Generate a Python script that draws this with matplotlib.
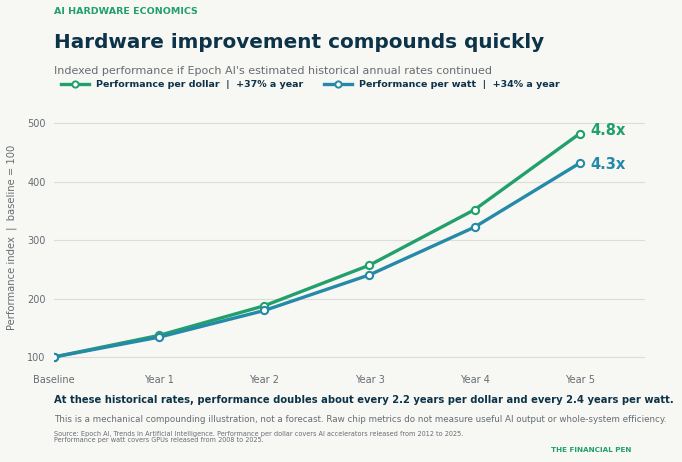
import matplotlib
matplotlib.use("Agg")
import matplotlib.pyplot as plt
from matplotlib.lines import Line2D

# values (index, baseline = 100)
periods = ["Baseline", "Year 1", "Year 2", "Year 3", "Year 4", "Year 5"]
per_dollar = [100, 137, 187.7, 257.2, 352.3, 482.6]
per_watt = [100, 134, 179.6, 240.6, 322.4, 432.0]
end_labels = ["4.8x", "4.3x"]
y_ticks = [100, 200, 300, 400, 500]

BG = "#f7f7f4"
GREEN = "#22a06b"
BLUE = "#2589a8"
NAVY = "#0d3349"
GREY = "#666d72"

fig = plt.figure(figsize=(6.82, 4.62), dpi=100, facecolor=BG)
W, H = 682, 462

ax = fig.add_axes([54 / W, 1 - 364 / H, (645 - 54) / W, (364 - 100) / H])
ax.set_facecolor(BG)

x = list(range(len(periods)))
for vals, col in [(per_dollar, GREEN), (per_watt, BLUE)]:
    ax.plot(x, vals, color=col, lw=2.4, marker="o", ms=5.2,
            mfc="white", mec=col, mew=1.5, zorder=3)

ax.text(x[-1] + 0.1, per_dollar[-1] + 5, end_labels[0], color=GREEN,
        fontsize=10.5, fontweight="bold", va="center", ha="left")
ax.text(x[-1] + 0.1, per_watt[-1] - 2, end_labels[1], color=BLUE,
        fontsize=10.5, fontweight="bold", va="center", ha="left")

ax.set_xlim(0, 5.62)
ax.set_ylim(88, 540)
ax.set_xticks(x)
ax.set_xticklabels(periods)
ax.set_yticks(y_ticks)
ax.tick_params(length=0, colors=GREY, labelsize=7)
ax.tick_params(axis="x", pad=8)
ax.tick_params(axis="y", pad=6)
ax.grid(axis="y", color="#dcdcd8", lw=0.8)
for s in ax.spines.values():
    s.set_visible(False)
ax.set_ylabel("Performance index  |  baseline = 100", color=GREY, fontsize=7.2)
ax.yaxis.set_label_coords(-0.063, 0.478)

# legend
handles = [
    Line2D([], [], color=GREEN, lw=2.4, marker="o", ms=4.5, mfc="white", mec=GREEN, mew=1.4),
    Line2D([], [], color=BLUE, lw=2.4, marker="o", ms=4.5, mfc="white", mec=BLUE, mew=1.4),
]
leg = fig.legend(handles, ["Performance per dollar  |  +37% a year",
                           "Performance per watt  |  +34% a year"],
                 loc="center left", bbox_to_anchor=(61 / W, 1 - 85 / H), ncol=2,
                 prop={"weight": "bold", "size": 6.8},
                 frameon=False, handlelength=3.0, handletextpad=0.7, columnspacing=2.2,
                 borderaxespad=0, borderpad=0)
for t in leg.get_texts():
    t.set_color(NAVY)

fig.text(54 / W, 1 - 12 / H, "AI HARDWARE ECONOMICS", color=GREEN,
         fontsize=6.8, fontweight="bold", va="center")
fig.text(54 / W, 1 - 42 / H, "Hardware improvement compounds quickly", color=NAVY,
         fontsize=14.4, fontweight="bold", va="center")
fig.text(54 / W, 1 - 71 / H,
         "Indexed performance if Epoch AI's estimated historical annual rates continued",
         color=GREY, fontsize=8.0, va="center")

fig.text(54 / W, 1 - 400 / H,
         "At these historical rates, performance doubles about every 2.2 years per dollar "
         "and every 2.4 years per watt.",
         color=NAVY, fontsize=7.22, fontweight="bold", va="center")
fig.text(54 / W, 1 - 420 / H,
         "This is a mechanical compounding illustration, not a forecast. Raw chip metrics "
         "do not measure useful AI output or whole-system efficiency.",
         color=GREY, fontsize=6.35, va="center")
fig.text(54 / W, 1 - 437 / H,
         "Source: Epoch AI, Trends in Artificial Intelligence. Performance per dollar covers "
         "AI accelerators released from 2012 to 2025.\n"
         "Performance per watt covers GPUs released from 2008 to 2025.",
         color=GREY, fontsize=4.7, va="center", linespacing=1.1)
fig.text(631 / W, 1 - 450 / H, "THE FINANCIAL PEN", color=GREEN,
         fontsize=5.2, fontweight="bold", va="center", ha="right")

fig.savefig("out.png", dpi=100, facecolor=BG)
